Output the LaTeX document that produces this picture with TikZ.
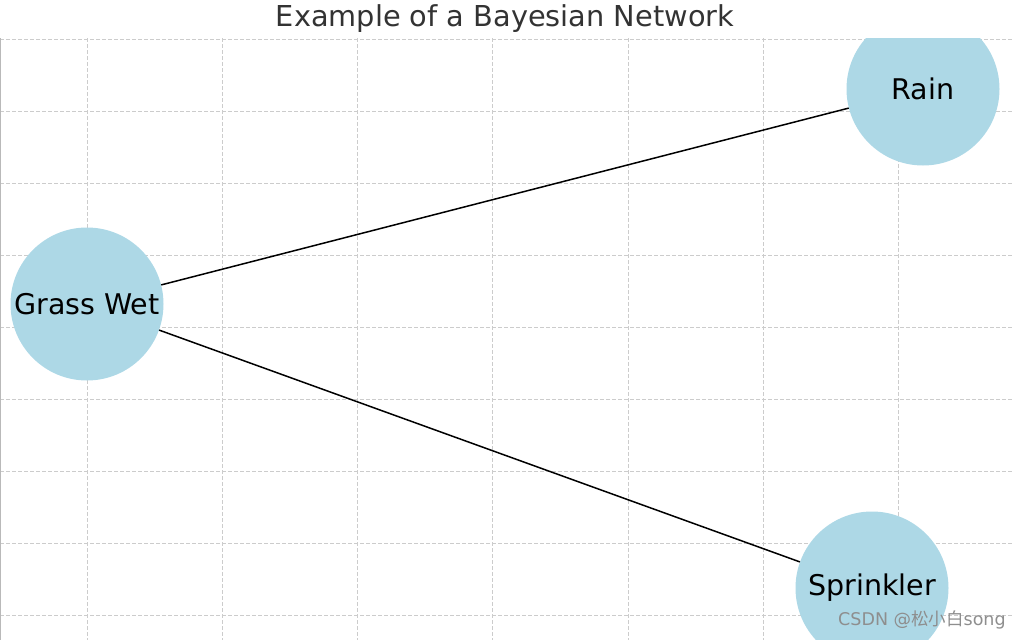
\documentclass[tikz,border=0pt]{standalone}
\usepackage{fontspec}
\setmainfont{DejaVu Sans}
\newfontfamily\cjkfont{Noto Sans CJK SC}

\definecolor{bnblue}{HTML}{ADD8E6}
\definecolor{bngrid}{HTML}{CCCCCC}
\definecolor{bntitle}{HTML}{333333}
\definecolor{bnmark}{HTML}{8E8E8E}

\begin{document}
\begin{tikzpicture}[
    x=1pt, y=-1pt,
    % Styles
    bnode/.style={
        circle, fill=bnblue, text=black,
        inner sep=0pt, minimum size=153pt,
        font=\fontsize{28.5}{34}\selectfont
    },
    edge/.style={draw=black, line width=1.5pt},
    gridline/.style={draw=bngrid, line width=1pt, dash pattern=on 4pt off 2pt},
    spine/.style={draw=gray!55, line width=1.2pt},
]

\useasboundingbox (0,0) rectangle (1021,640);

%--- Title ---%
\node[text=bntitle, font=\fontsize{28.8}{34}\selectfont] (title) at (505,18.5) {Example of a Bayesian Network};

\begin{scope}
\clip (0,38) rectangle (1013,640);

%--- Grid ---
% verticals every ~135px, horizontals every 72px
\draw[gridline] (87,38) -- (87,640)  (222,38) -- (222,640)  (357,38) -- (357,640)
    (492,38) -- (492,640)  (628,38) -- (628,640)  (763,38) -- (763,640)  (898,38) -- (898,640);
\draw[gridline] (0,39) -- (1013,39)  (0,111) -- (1013,111)  (0,183) -- (1013,183)
    (0,255) -- (1013,255)  (0,327) -- (1013,327)  (0,399) -- (1013,399)
    (0,471) -- (1013,471)  (0,543) -- (1013,543)  (0,615) -- (1013,615);

%--- Left spine ---
\draw[spine] (0.6,38) -- (0.6,640);

%--- Nodes ---
\node[bnode] (grasswet)  at (87,304)  {Grass Wet};
\node[bnode] (rain)      at (923,89)  {Rain};
\node[bnode] (sprinkler) at (872,588) {Sprinkler};

%--- Edges ---
\draw[edge] (grasswet) -- (rain);
\draw[edge] (grasswet) -- (sprinkler);
\end{scope}

%--- Watermark ---
\node[anchor=west, text=bnmark, inner sep=0pt, font=\fontsize{17.5}{20}\selectfont] (mark) at (838,620) {CSDN @{\cjkfont 松小白}song};

\end{tikzpicture}
\end{document}
